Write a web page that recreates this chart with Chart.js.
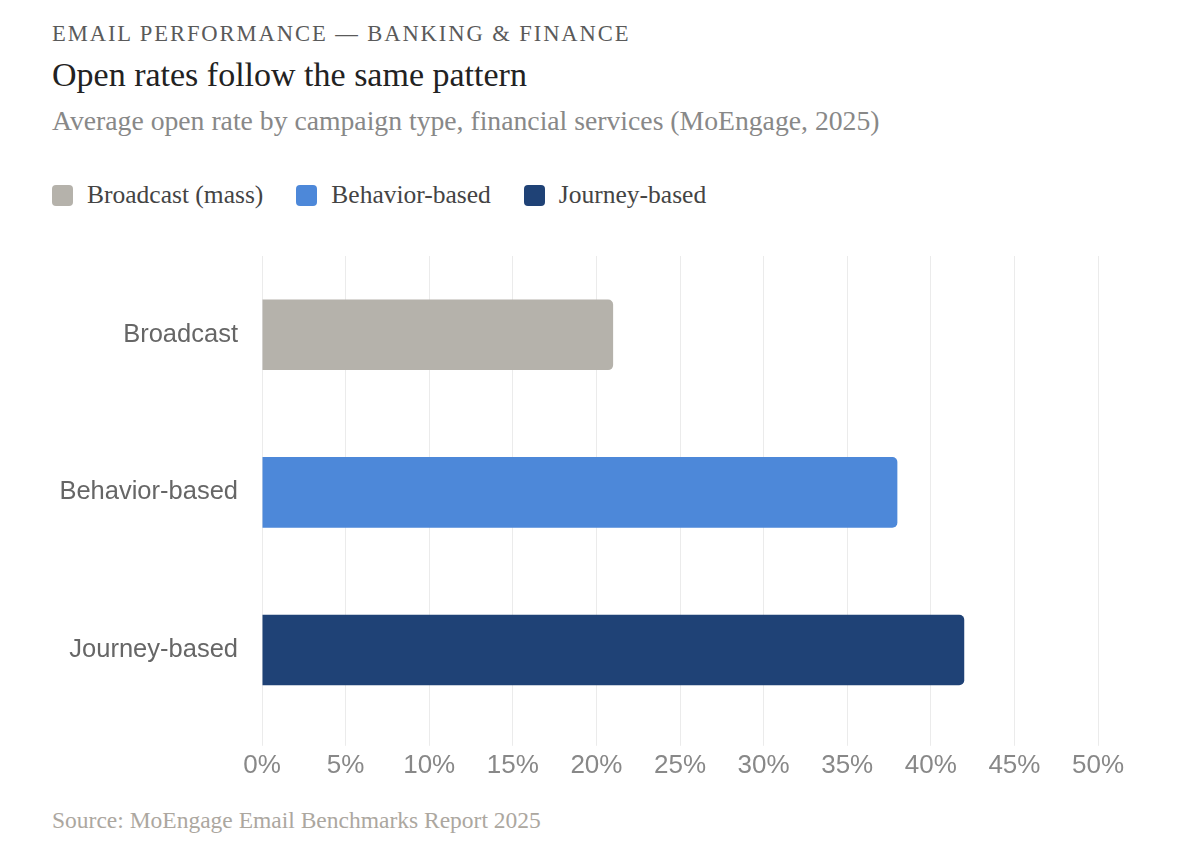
<!DOCTYPE html>
<html lang="en">
<head>
    <meta charset="UTF-8">
    <title>Open rates follow the same pattern</title>
    <script src="https://cdn.jsdelivr.net/npm/chart.js"></script>
    <style>
        body {
            margin: 0;
            background: #fff;
            font-family: "Liberation Serif", "Times New Roman", serif;
        }
        .wrap {
            position: relative;
            width: 1184px;
            height: 850px;
        }
        .kicker {
            position: absolute;
            left: 52px;
            top: 21px;
            font-size: 22.6px;
            letter-spacing: 1.9px;
            color: #5a5a5a;
            white-space: nowrap;
        }
        h1 {
            position: absolute;
            left: 52px;
            top: 56px;
            margin: 0;
            font-size: 34px;
            font-weight: normal;
            color: #222;
            white-space: nowrap;
        }
        .sub {
            position: absolute;
            left: 52px;
            top: 105px;
            font-size: 27.7px;
            color: #888;
            white-space: nowrap;
        }
        .legend {
            position: absolute;
            left: 52px;
            top: 180px;
            display: flex;
            gap: 33px;
            font-size: 25.5px;
            color: #444;
            white-space: nowrap;
        }
        .legend span {
            display: flex;
            align-items: center;
        }
        .legend i {
            display: inline-block;
            width: 21px;
            height: 21px;
            border-radius: 4px;
            margin-right: 14px;
        }
        .chart-box {
            position: absolute;
            left: 40px;
            top: 240px;
            width: 1084px;
            height: 545px;
        }
        .source {
            position: absolute;
            left: 52px;
            top: 807px;
            font-size: 23.5px;
            color: #aca79f;
            white-space: nowrap;
        }
    </style>
</head>
<body>
<div class="wrap">
    <div class="kicker">EMAIL PERFORMANCE — BANKING &amp; FINANCE</div>
    <h1>Open rates follow the same pattern</h1>
    <div class="sub">Average open rate by campaign type, financial services (MoEngage, 2025)</div>
    <div class="legend" id="legend"></div>
    <div class="chart-box"><canvas id="myChart"></canvas></div>
    <div class="source">Source: MoEngage Email Benchmarks Report 2025</div>
</div>

<script>
    // campaign types and their average open rate (%)
    const categories = ['Broadcast', 'Behavior-based', 'Journey-based'];
    const legendLabels = ['Broadcast (mass)', 'Behavior-based', 'Journey-based'];
    const openRates = [21, 38, 42];
    const barColors = ['#b5b2ab', '#4d88d9', '#1f4276'];
    const xTicks = [0, 5, 10, 15, 20, 25, 30, 35, 40, 45, 50];

    const legend = document.getElementById('legend');
    legendLabels.forEach((label, i) => {
        const item = document.createElement('span');
        item.innerHTML = `<i style="background:${barColors[i]}"></i>${label}`;
        legend.appendChild(item);
    });

    const sans = '"Liberation Sans", Arial, sans-serif';
    const ctx = document.getElementById('myChart').getContext('2d');
    new Chart(ctx, {
        type: 'bar',
        data: {
            labels: categories,
            datasets: [{
                label: 'Open rate',
                data: openRates,
                backgroundColor: barColors,
                borderRadius: 5,
                borderSkipped: 'start',
                barPercentage: 0.56,
                categoryPercentage: 0.8
            }]
        },
        options: {
            indexAxis: 'y',
            responsive: true,
            maintainAspectRatio: false,
            animation: false,
            layout: { padding: { top: 16, right: 26, bottom: 0, left: 0 } },
            plugins: {
                legend: { display: false },
                tooltip: { enabled: false }
            },
            scales: {
                x: {
                    min: 0,
                    max: 50,
                    afterBuildTicks: (scale) => {
                        scale.ticks = xTicks.map(v => ({ value: v }));
                    },
                    afterFit: (scale) => {
                        scale.paddingLeft = 0;
                        scale.paddingRight = 0;
                    },
                    border: { display: false },
                    grid: { color: '#ebebeb', lineWidth: 1, tickLength: 17 },
                    ticks: {
                        callback: (v) => v + '%',
                        color: '#888',
                        padding: 4,
                        font: { family: sans, size: 26 }
                    }
                },
                y: {
                    border: { display: false },
                    grid: { display: false },
                    afterFit: (scale) => {
                        scale.width = 222;
                        scale.paddingTop = 0;
                        scale.paddingBottom = 0;
                    },
                    ticks: {
                        color: '#666',
                        padding: 16,
                        font: { family: sans, size: 25.5 }
                    }
                }
            }
        }
    });
</script>
</body>
</html>
